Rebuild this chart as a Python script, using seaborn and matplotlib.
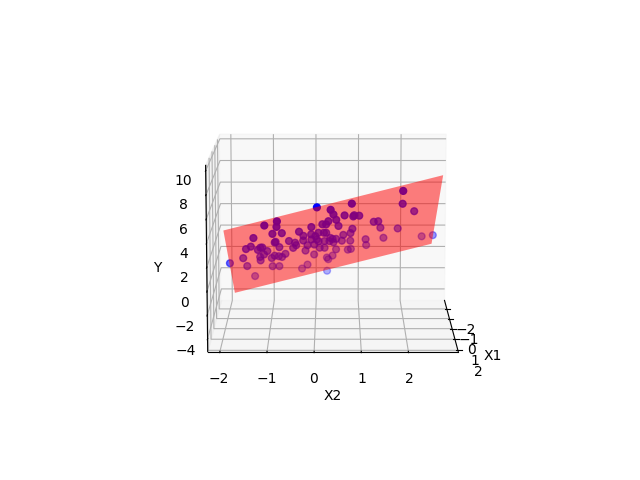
import matplotlib
matplotlib.use("Agg")
import matplotlib.pyplot as plt
import numpy as np
import seaborn as sns

sns.reset_orig()

# sample points
x1 = [1.57, 0.76, 0.08, 1.59, 1.54, 1.20, 0.96, 0.75, 0.81, 0.70, 0.81, 0.85, 0.37, 0.75, 0.68,
      1.67, 1.33, 1.61, 0.75, 0.65, 0.95, 0.84, 0.99, 0.05, 0.01, -0.47, -0.83, -0.06, -0.32, -0.32,
      -1.24, -1.02, -1.84, -1.45, -1.45, -1.45, -1.21, -0.85, -0.70, -0.47, -0.41, -0.42, -0.51, 0.12, 0.25,
      0.08, 0.27, 0.30, -0.01, -0.08, -0.48, -0.41, -0.75, -0.34, -0.21, -0.02, 0.20, 0.34, 0.37, -0.05,
      0.24, 0.22, 0.13, 0.47, 0.39, -0.11, -0.29, -0.39, -0.64, -0.18, -0.80, -0.67, -0.56, -0.67, -0.78,
      -0.62, -1.27, -1.39, -1.67, -1.99, -1.80, -1.18, -0.80, -0.89, -1.64, -1.79, -1.60, -0.18,
      -0.66, -0.33, 0.16, -0.30,
      1.80, -0.60, -2.07, -2.60]
x2 = [1.89, 1.91, 2.19, 0.80, 0.35, 0.41, 0.65, 0.84, 0.86, 0.97, 0.47, 0.30, 0.52, 0.17, 0.25,
      -0.79, -0.81, -1.06, -0.07, -0.34, -0.91, -0.71, -1.32, 1.30, 1.40, 1.46, 1.86, 0.83, 0.79, 0.63,
      1.55, 1.14, 2.45, 1.16, 0.81, 0.74, 0.47, 0.79, 0.60, 0.47, 0.39, 0.21, 0.32, 0.25, 0.08,
      0.01, -0.08, -0.25, -0.26, -0.08, -0.02, -0.17, -0.22, -0.49, -0.42, -0.44, -0.57, -0.88, -0.86, -0.79,
      -1.20, -1.16, -1.26, -1.40, -1.51, -1.06, -1.14, -1.23, -1.23, -1.60, -1.54, -0.98, -0.91, -0.82, -0.75,
      -0.67, -0.98, -0.83, -1.40, -0.32, -0.19, -0.03, 0.10, 0.21, 0.26, 0.29, 0.39, 0.04,
      0.41, 0.08, 0.20, 0.34,
      0.06, -1.92, 2.72, 0.26]
y = [7.99, 6.39, 5.30, 6.94, 6.39, 5.77, 5.53, 5.30, 5.44, 5.33, 5.05, 4.96, 4.22, 4.63, 4.57,
     5.51, 4.81, 5.12, 4.39, 3.92, 3.95, 3.93, 3.62, 4.36, 4.38, 3.48, 3.16, 3.67, 3.11, 2.95,
     2.03, 2.06, 1.73, 1.22, 0.87, 0.80, 1.01, 2.05, 2.16, 2.49, 2.53, 2.33, 2.26, 3.45, 3.54,
     3.13, 3.42, 3.31, 2.68, 2.72, 1.98, 1.97, 1.24, 1.79, 2.12, 2.48, 2.79, 2.76, 2.84, 2.07,
     2.24, 2.24, 1.96, 2.50, 2.23, 1.68, 1.24, 0.95, 0.45, 1.00, -0.18, 0.64, 0.93, 0.80, 0.65,
     1.05, -0.56, -0.65, -1.78, -1.34, -0.83, 0.57, 1.46, 1.39, -0.06, -0.33, 0.15, 2.64,
     2.05, 2.38, 3.48, 2.70,
     6.77, 0.23, 1.67, -2.03]

# fitted plane corners
plane_x1 = [-2.60, 1.80]
plane_x2 = [-1.92, 2.72]
plane_y = [[-4.10, 0.49], [4.84, 9.44]]

x2_ticks = [-2, -1, 0, 1, 2]

fig = plt.figure()
ax = fig.add_subplot(111, projection="3d")

ax.scatter(x1, x2, y, color="blue", s=24)
X1, X2 = np.meshgrid(plane_x1, plane_x2, indexing="ij")
ax.plot_surface(X1, X2, np.array(plane_y), color="red", alpha=0.5, shade=False)

ax.set_xlabel("X1")
ax.set_ylabel("X2")
ax.set_zlabel("Y")
ax.set_yticks(x2_ticks)
ax.view_init(elev=10, azim=0)

plt.savefig("out.png", dpi=100)
